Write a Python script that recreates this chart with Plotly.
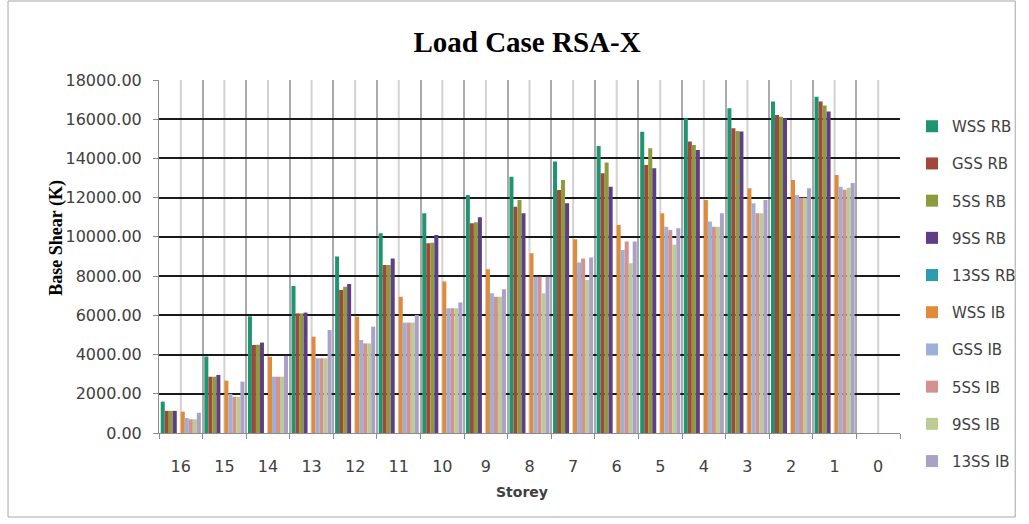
import plotly.graph_objects as go

# Storey labels, top floor first
storeys = ["16", "15", "14", "13", "12", "11", "10", "9", "8", "7", "6", "5", "4", "3", "2", "1", "0"]

# Base shear (K) per storey for each model
wss_rb = [1600, 3900, 5950, 7500, 9000, 10180, 11200, 12140, 13070, 13840, 14640, 15360, 16050, 16560, 16900, 17150, 0]
gss_rb = [1130, 2870, 4490, 6100, 7290, 8570, 9670, 10700, 11540, 12390, 13240, 13670, 14860, 15540, 16220, 16900, 0]
s5_rb = [1130, 2870, 4500, 6100, 7460, 8570, 9700, 10750, 11880, 12900, 13790, 14520, 14690, 15400, 16130, 16700, 0]
s9_rb = [1130, 2960, 4610, 6140, 7600, 8900, 10100, 11000, 11200, 11710, 12560, 13500, 14430, 15370, 16050, 16390, 0]
s13_rb = [0] * 17
wss_ib = [1090, 2670, 3890, 4910, 5930, 6950, 7720, 8350, 9160, 9880, 10610, 11200, 11880, 12480, 12900, 13150, 0]
gss_ib = [770, 2000, 2870, 3810, 4740, 5630, 6360, 7120, 7970, 8700, 9330, 10520, 10780, 11710, 12140, 12560, 0]
s5_ib = [700, 1850, 2870, 3810, 4570, 5630, 6360, 6950, 7970, 8900, 9760, 10350, 10520, 11200, 12000, 12400, 0]
s9_ib = [700, 1850, 2870, 3810, 4570, 5630, 6360, 6950, 7120, 7800, 8650, 9600, 10520, 11200, 12000, 12500, 0]
s13_ib = [1030, 2620, 3930, 5250, 5420, 6020, 6650, 7330, 7970, 8950, 9760, 10440, 11200, 11880, 12480, 12750, 0]

series_names = ["WSS RB", "GSS RB", "5SS RB", "9SS RB", "13SS RB",
                "WSS IB", "GSS IB", "5SS IB", "9SS IB", "13SS IB"]
series_values = [wss_rb, gss_rb, s5_rb, s9_rb, s13_rb,
                 wss_ib, gss_ib, s5_ib, s9_ib, s13_ib]
series_colors = ["#1E9470", "#A0483A", "#8C9C3C", "#5E3F86", "#2C9CB0",
                 "#E08A3C", "#9DB0D8", "#D4918E", "#BCCB94", "#ABA0C8"]

W, H = 1029, 524
L, R, T, B = 159, 905, 80, 433  # plot area in pixels

fig = go.Figure()
for name, vals, col in zip(series_names, series_values, series_colors):
    fig.add_trace(go.Bar(x=storeys, y=vals, name=name, marker_color=col,
                         marker_line_width=0, legendgroup=name))

def px_x(p):
    return (p - L) / (R - L)

def px_y(p):
    return (B - p) / (B - T)

shapes = []
# light centre lines inside each storey group
for s in storeys:
    shapes.append(dict(type="line", xref="x", yref="paper", x0=s, x1=s, y0=0, y1=1,
                       line=dict(color="#d2d2d2", width=2), layer="below"))
# outer chart frame
shapes.append(dict(type="rect", xref="paper", yref="paper",
                   x0=px_x(7), x1=px_x(1021), y0=px_y(517), y1=px_y(1),
                   line=dict(color="#a6a6a6", width=1), fillcolor="rgba(0,0,0,0)"))

fig.update_layout(
    width=W, height=H,
    margin=dict(l=L, r=W - R, t=T, b=H - B, pad=0),
    paper_bgcolor="white", plot_bgcolor="rgba(0,0,0,0)",
    barmode="group", bargap=0.08, bargroupgap=0,
    title=dict(text="<b>Load Case RSA-X</b>", x=527 / W, xanchor="center",
               y=1 - 42 / H, yanchor="middle",
               font=dict(family="Liberation Serif", size=29, color="#000000")),
    xaxis=dict(type="category", categoryorder="array", categoryarray=storeys,
               tickson="boundaries", showgrid=True, gridcolor="#ababab", gridwidth=2,
               ticks="outside", ticklen=5, tickcolor="#8c8c8c",
               showline=True, linecolor="#8c8c8c", linewidth=1, mirror=False,
               ticklabelstandoff=19,
               tickfont=dict(family="DejaVu Sans", size=16, color="#404040")),
    yaxis=dict(range=[0, 18000], tickvals=list(range(0, 18001, 2000)),
               tickformat=".2f", showgrid=True, gridcolor="#1a1a1a", gridwidth=2,
               zeroline=False, ticks="outside", ticklen=5, tickcolor="#8c8c8c",
               showline=True, linecolor="#8c8c8c", linewidth=1,
               ticklabelstandoff=8,
               tickfont=dict(family="DejaVu Sans", size=16, color="#404040")),
    legend=dict(xref="container", yref="container",
                x=912 / W, y=1 - 110 / H, xanchor="left", yanchor="top",
                tracegroupgap=14.7, maxheight=470, bgcolor="rgba(0,0,0,0)",
                font=dict(family="DejaVu Sans", size=15, color="#404040")),
    shapes=shapes,
    annotations=[
        dict(text="<b>Base Shear (K)</b>", xref="paper", yref="paper",
             x=px_x(55), y=px_y(238), showarrow=False, textangle=-90,
             xanchor="center", yanchor="middle",
             font=dict(family="Liberation Serif", size=18, color="#000000")),
        dict(text="<b>Storey</b>", xref="paper", yref="paper",
             x=px_x(524), y=px_y(492), showarrow=False,
             xanchor="center", yanchor="middle",
             font=dict(family="DejaVu Sans", size=14, color="#404040")),
    ],
)

fig.write_html("out.html")
